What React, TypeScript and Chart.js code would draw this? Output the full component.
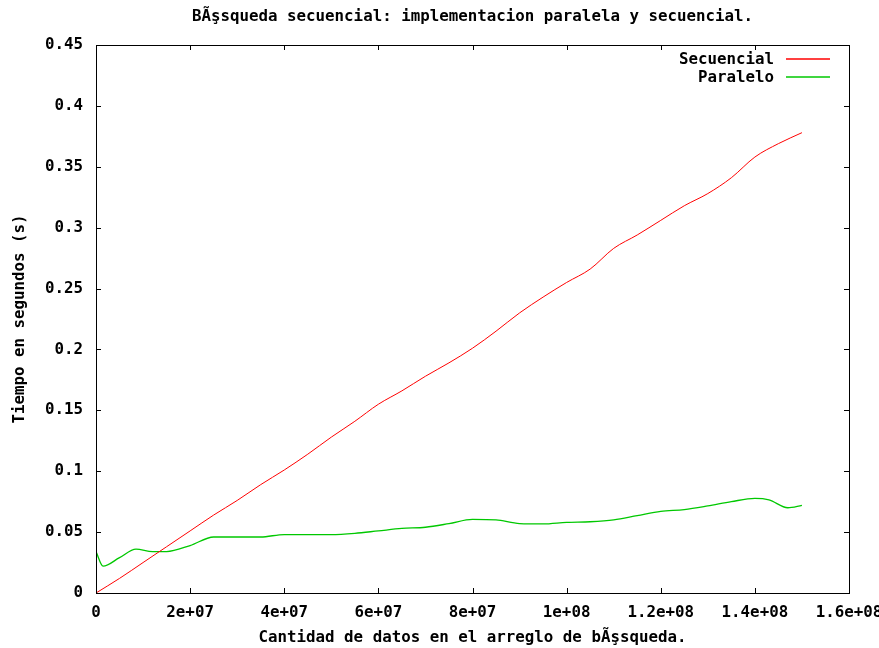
import React, { useEffect, useRef } from "react";
import { Chart, registerables } from "chart.js";

Chart.register(...registerables);

const titleText = "BÃşsqueda secuencial: implementacion paralela y secuencial.";
const xTitle = "Cantidad de datos en el arreglo de bÃşsqueda.";
const yTitle = "Tiempo en segundos (s)";

const secX = [0, 5e6, 10e6, 15e6, 20e6, 25e6, 30e6, 35e6, 40e6, 45e6, 50e6, 55e6, 60e6, 65e6, 70e6, 75e6, 80e6, 85e6, 90e6, 95e6, 100e6, 105e6, 110e6, 115e6, 120e6, 125e6, 130e6, 135e6, 140e6, 145e6, 150e6];
const secY = [0, 0.012, 0.025, 0.038, 0.051, 0.064, 0.076, 0.089, 0.101, 0.114, 0.128, 0.141, 0.155, 0.166, 0.178, 0.189, 0.201, 0.215, 0.23, 0.243, 0.255, 0.266, 0.283, 0.294, 0.306, 0.318, 0.328, 0.341, 0.358, 0.369, 0.378];

const parX = [0, 1.5e6, 5e6, 8.5e6, 12e6, 15e6, 20e6, 25e6, 30e6, 35e6, 40e6, 45e6, 50e6, 55e6, 60e6, 65e6, 70e6, 75e6, 80e6, 85e6, 90e6, 95e6, 100e6, 105e6, 110e6, 115e6, 120e6, 125e6, 130e6, 135e6, 140e6, 143e6, 147e6, 150e6];
const parY = [0.034, 0.022, 0.029, 0.036, 0.034, 0.034, 0.039, 0.046, 0.046, 0.046, 0.048, 0.048, 0.048, 0.049, 0.051, 0.053, 0.054, 0.057, 0.0605, 0.06, 0.057, 0.0567, 0.058, 0.0585, 0.06, 0.0635, 0.067, 0.0685, 0.0715, 0.075, 0.0777, 0.0765, 0.07, 0.072];

const xTicks = [0, 2e7, 4e7, 6e7, 8e7, 1e8, 1.2e8, 1.4e8, 1.6e8];
const xTickLabels = ["0", "2e+07", "4e+07", "6e+07", "8e+07", "1e+08", "1.2e+08", "1.4e+08", "1.6e+08"];
const yTicks = [0, 0.05, 0.1, 0.15, 0.2, 0.25, 0.3, 0.35, 0.4, 0.45];
const yTickLabels = ["0", "0.05", "0.1", "0.15", "0.2", "0.25", "0.3", "0.35", "0.4", "0.45"];

const seriesNames = ["Secuencial", "Paralelo"];
const seriesColors = ["#ff0000", "#00c800"];

const FONT = "bold 15.8px 'DejaVu Sans Mono', 'Liberation Mono', monospace";

const gnuplotPlugin = {
  id: "gnuplotDecor",
  afterDraw(chart: any) {
    const ctx = chart.ctx as CanvasRenderingContext2D;
    const area = chart.chartArea;
    const xs = chart.scales.x;
    const ys = chart.scales.y;
    ctx.save();
    ctx.strokeStyle = "#000";
    ctx.lineWidth = 1;
    ctx.strokeRect(Math.round(area.left) + 0.5, Math.round(area.top) + 0.5, Math.round(area.right - area.left), Math.round(area.bottom - area.top));
    const tl = 5;
    ctx.beginPath();
    xTicks.forEach((v) => {
      const px = Math.round(xs.getPixelForValue(v)) + 0.5;
      ctx.moveTo(px, area.bottom);
      ctx.lineTo(px, area.bottom - tl);
      ctx.moveTo(px, area.top);
      ctx.lineTo(px, area.top + tl);
    });
    yTicks.forEach((v) => {
      const py = Math.round(ys.getPixelForValue(v)) + 0.5;
      ctx.moveTo(area.left, py);
      ctx.lineTo(area.left + tl, py);
      ctx.moveTo(area.right, py);
      ctx.lineTo(area.right - tl, py);
    });
    ctx.stroke();

    ctx.fillStyle = "#000";
    ctx.font = FONT;
    ctx.textBaseline = "middle";
    ctx.textAlign = "right";
    yTicks.forEach((v, i) => {
      ctx.fillText(yTickLabels[i], area.left - 13, ys.getPixelForValue(v));
    });
    ctx.textAlign = "center";
    xTicks.forEach((v, i) => {
      ctx.fillText(xTickLabels[i], xs.getPixelForValue(v), area.bottom + 20);
    });
    ctx.fillText(titleText, (area.left + area.right) / 2, 17);
    ctx.fillText(xTitle, (area.left + area.right) / 2, area.bottom + 45);
    ctx.save();
    ctx.translate(20, (area.top + area.bottom) / 2);
    ctx.rotate(-Math.PI / 2);
    ctx.fillText(yTitle, 0, 0);
    ctx.restore();

    ctx.textAlign = "right";
    seriesNames.forEach((name, i) => {
      const y = area.top + 15 + i * 18;
      ctx.fillStyle = "#000";
      ctx.fillText(name, area.right - 75, y);
      ctx.strokeStyle = seriesColors[i];
      ctx.lineWidth = 1.6;
      ctx.beginPath();
      ctx.moveTo(area.right - 63, Math.round(y) - 1);
      ctx.lineTo(area.right - 19, Math.round(y) - 1);
      ctx.stroke();
    });
    ctx.restore();
  },
};

export default function App() {
  const ref = useRef<HTMLCanvasElement>(null);
  useEffect(() => {
    document.body.style.margin = "0";
    if (!ref.current) return;
    const chart = new Chart(ref.current, {
      type: "line",
      data: {
        datasets: [
          {
            label: seriesNames[0],
            data: secX.map((x, i) => ({ x, y: secY[i] })),
            borderColor: seriesColors[0],
            borderWidth: 1,
            pointRadius: 0,
            cubicInterpolationMode: "monotone",
            fill: false,
          },
          {
            label: seriesNames[1],
            data: parX.map((x, i) => ({ x, y: parY[i] })),
            borderColor: seriesColors[1],
            borderWidth: 1.3,
            pointRadius: 0,
            cubicInterpolationMode: "monotone",
            fill: false,
          },
        ],
      },
      options: {
        responsive: false,
        animation: false,
        layout: { padding: { left: 96, right: 30, top: 45, bottom: 55 } },
        plugins: {
          legend: { display: false },
          title: { display: false },
          tooltip: { enabled: false },
        },
        scales: {
          x: { type: "linear", display: false, min: 0, max: 1.6e8 },
          y: { type: "linear", display: false, min: 0, max: 0.45 },
        },
      },
      plugins: [gnuplotPlugin],
    });
    return () => chart.destroy();
  }, []);
  return (
    <div style={{ position: "absolute", left: 0, top: 0, width: 879, height: 648, background: "#fff" }}>
      <canvas ref={ref} width={879} height={648} />
    </div>
  );
}
